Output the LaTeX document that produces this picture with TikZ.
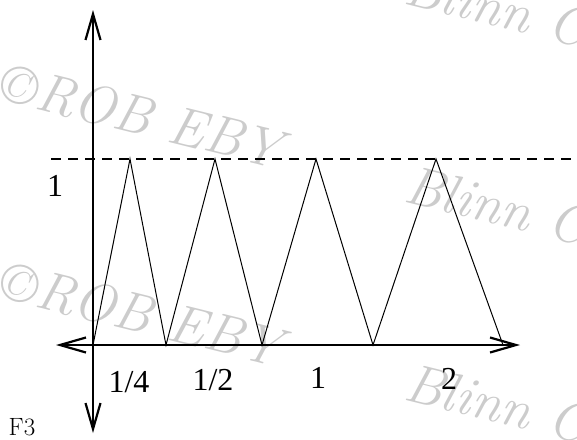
\documentclass[tikz,border=0pt]{standalone}
\usepackage{fontspec}
\newfontfamily\tms{Liberation Serif}
\usetikzlibrary{arrows.meta}
\begin{document}
\begin{tikzpicture}[x=1pt,y=-1pt,
  barb/.tip={Straight Barb[length=26pt,width=15pt,line width=2.2pt]},
  axis/.style={line width=2.2pt,barb-barb},
  wave/.style={line width=1pt,line join=miter},
  guide/.style={line width=2pt,dash pattern=on 10pt off 7pt},
  lbl/.style={inner sep=0pt,font=\tms\fontsize{32}{36}\selectfont},
  tag/.style={inner sep=0pt,font=\fontsize{25}{30}\selectfont},
  wmark/.style={inner sep=0pt,anchor=base west,rotate=-14,text=black!20,
    font=\itshape\fontsize{55}{60}\selectfont}]
\useasboundingbox (0,0) rectangle (577,439);
% watermarks
\node[wmark] (w1) at (-3,99) {\copyright ROB EBY};
\node[wmark] (w2) at (-3,297) {\copyright ROB EBY};
\node[wmark] (w3) at (402,3) {Blinn C};
\node[wmark] (w4) at (402,201) {Blinn C};
\node[wmark] (w5) at (402,399) {Blinn C};
% axes
\coordinate (o) at (93,345);
\coordinate (ytop) at (93,10);
\coordinate (ybot) at (93,433);
\coordinate (xl) at (56,345);
\coordinate (xr) at (520,345);
\draw[axis] (ybot) -- (ytop);
\draw[axis] (xl) -- (xr);
% dashed level
\coordinate (d0) at (51,159);
\coordinate (d1) at (577,159);
\draw[guide] (d0) -- (d1);
% triangle wave
\coordinate (p1) at (130,159);
\coordinate (p2) at (166,345);
\coordinate (p3) at (215,159);
\coordinate (p4) at (262,345);
\coordinate (p5) at (316,159);
\coordinate (p6) at (373,345);
\coordinate (p7) at (436,159);
\coordinate (p8) at (503,345);
\draw[wave] (o) -- (p1) -- (p2) -- (p3) -- (p4) -- (p5) -- (p6) -- (p7) -- (p8);
% labels
\node[lbl] (l1) at (55,186) {1};
\node[lbl] (q1) at (129,382) {1/4};
\node[lbl] (q2) at (213,380) {1/2};
\node[lbl] (q3) at (318,378) {1};
\node[lbl] (q4) at (449,379) {2};
\node[tag] (f3) at (22,427.5) {F3};
\end{tikzpicture}
\end{document}
